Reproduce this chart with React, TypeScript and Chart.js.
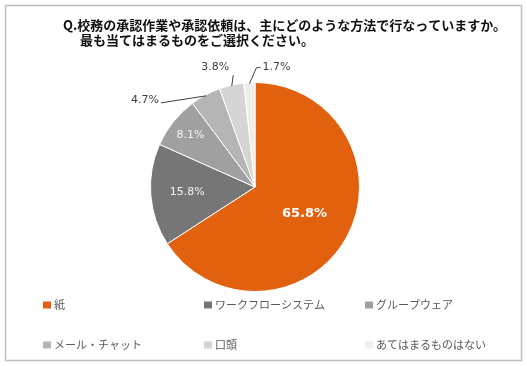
import React, { useEffect, useRef } from "react";
import { Chart, registerables } from "chart.js";

Chart.register(...registerables);

const categories = ["紙", "ワークフローシステム", "グループウェア", "メール・チャット", "口頭", "あてはまるものはない"];
const values = [65.8, 15.8, 8.1, 4.7, 3.8, 1.7];
const colors = ["#E2610F", "#767676", "#A0A0A0", "#B5B5B5", "#D5D5D5", "#EEEEEE"];
const titleLines = [
  "Q.校務の承認作業や承認依頼は、主にどのような方法で行なっていますか。",
  "最も当てはまるものをご選択ください。",
];

const JP = '"Noto Sans CJK JP", "Noto Sans", sans-serif';
const NUM = '"DejaVu Sans", Verdana, sans-serif';

// label styling: inside labels use a radial factor; outside use leader lines
const insideStyle: Record<number, { f: number; font: string; color: string }> = {
  0: { f: 0.54, font: `bold 13px ${NUM}`, color: "#FFFFFF" },
  1: { f: 0.65, font: `11px ${NUM}`, color: "#F2F2F2" },
  2: { f: 0.79, font: `11px ${NUM}`, color: "#F2F2F2" },
};

const overlay = {
  id: "overlay",
  afterDraw(chart: any) {
    const ctx = chart.ctx as CanvasRenderingContext2D;
    ctx.save();
    // frame
    ctx.strokeStyle = "#BFBFBF";
    ctx.lineWidth = 1.5;
    ctx.strokeRect(5.5, 5.5, 516, 355);

    // title
    ctx.fillStyle = "#111111";
    ctx.font = `bold 13px ${JP}`;
    ctx.textBaseline = "middle";
    ctx.textAlign = "left";
    ctx.fillText(titleLines[0], 63, 25);
    ctx.fillText(titleLines[1], 80, 40);

    // labels
    const meta = chart.getDatasetMeta(0);
    meta.data.forEach((arc: any, i: number) => {
      const p = arc.getProps(["x", "y", "startAngle", "endAngle", "outerRadius"], true);
      const mid = (p.startAngle + p.endAngle) / 2;
      const txt = values[i].toFixed(1) + "%";
      const st = insideStyle[i];
      if (st) {
        const r = p.outerRadius * st.f;
        ctx.font = st.font;
        ctx.fillStyle = st.color;
        ctx.textAlign = "center";
        ctx.textBaseline = "middle";
        ctx.fillText(txt, p.x + r * Math.cos(mid), p.y + r * Math.sin(mid));
        return;
      }
      const ex = p.x + (p.outerRadius - 1) * Math.cos(mid);
      const ey = p.y + (p.outerRadius - 1) * Math.sin(mid);
      ctx.strokeStyle = "#404040";
      ctx.lineWidth = 1;
      ctx.font = `11px ${NUM}`;
      ctx.fillStyle = "#404040";
      ctx.textBaseline = "middle";
      ctx.beginPath();
      ctx.moveTo(ex, ey);
      if (i === 3) {
        const x1 = ex - 45, y1 = ey + 7;
        ctx.lineTo(x1, y1);
        ctx.stroke();
        ctx.textAlign = "right";
        ctx.fillText(txt, x1 - 2, y1 - 3);
      } else if (i === 4) {
        const x1 = ex + 1.5, y1 = ey - 11;
        ctx.lineTo(x1, y1);
        ctx.stroke();
        ctx.textAlign = "right";
        ctx.fillText(txt, x1 - 4, y1 - 8);
      } else {
        const x1 = ex + 7, y1 = ey - 16;
        ctx.lineTo(x1, y1);
        ctx.lineTo(x1 + 4, y1);
        ctx.stroke();
        ctx.textAlign = "left";
        ctx.fillText(txt, x1 + 6, y1 - 1);
      }
    });

    // legend
    const colX = [43, 204, 365];
    const rowY = [305, 345];
    ctx.font = `11px ${JP}`;
    ctx.textAlign = "left";
    ctx.textBaseline = "middle";
    categories.forEach((c, i) => {
      const x = colX[i % 3];
      const y = rowY[Math.floor(i / 3)];
      ctx.fillStyle = colors[i];
      ctx.fillRect(x, y - 3.5, 8, 7);
      ctx.fillStyle = "#595959";
      ctx.fillText(c, x + 11, y);
    });
    ctx.restore();
  },
};

export default function App() {
  const ref = useRef<HTMLCanvasElement>(null);
  useEffect(() => {
    if (!ref.current) return;
    const chart = new Chart(ref.current, {
      type: "pie",
      data: {
        labels: categories,
        datasets: [
          {
            data: values,
            backgroundColor: colors,
            borderColor: "#FFFFFF",
            borderWidth: 1,
          },
        ],
      },
      options: {
        responsive: false,
        animation: false,
        layout: { padding: { top: 82, bottom: 74, left: 150, right: 167 } },
        plugins: {
          legend: { display: false },
          tooltip: { enabled: false },
          title: { display: false },
        },
      },
      plugins: [overlay],
    });
    return () => chart.destroy();
  }, []);
  return (
    <div style={{ position: "absolute", left: 0, top: 0, width: 527, height: 366, background: "#FFFFFF" }}>
      <canvas ref={ref} width={527} height={366} />
    </div>
  );
}
